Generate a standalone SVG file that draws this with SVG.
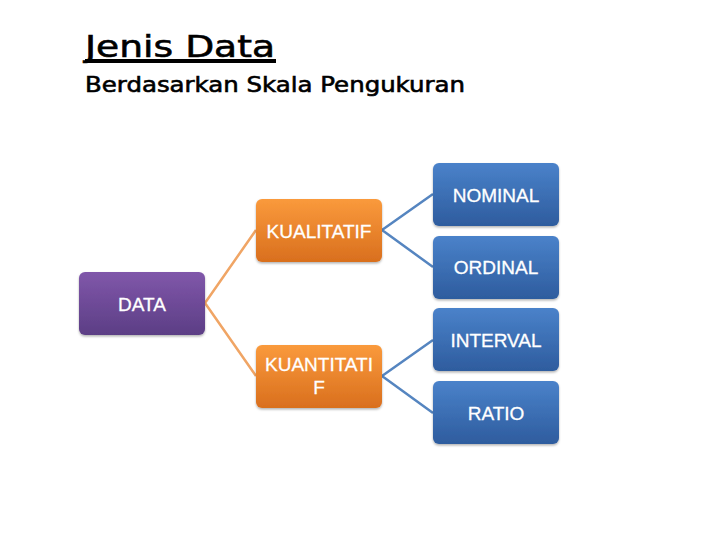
<svg xmlns="http://www.w3.org/2000/svg" width="720" height="540" viewBox="0 0 720 540">
<defs>
<linearGradient id="gP" x1="0" y1="0" x2="0" y2="1"><stop offset="0" stop-color="#8057AA"/><stop offset="1" stop-color="#5C3E85"/></linearGradient>
<linearGradient id="gO" x1="0" y1="0" x2="0" y2="1"><stop offset="0" stop-color="#FA9A3C"/><stop offset="1" stop-color="#D96F1E"/></linearGradient>
<linearGradient id="gB" x1="0" y1="0" x2="0" y2="1"><stop offset="0" stop-color="#4A82CA"/><stop offset="1" stop-color="#2E5C9E"/></linearGradient>
<filter id="sh" x="-10%" y="-10%" width="130%" height="130%"><feDropShadow dx="0" dy="1.5" stdDeviation="1.2" flood-color="#000" flood-opacity="0.3"/></filter>
</defs>
<style>
.t{font-family:"Liberation Sans",Arial,sans-serif;font-size:19px;fill:#fff;text-anchor:middle;dominant-baseline:central;stroke:#fff;stroke-width:0.3}
.c{fill:none;stroke-width:2.5}
.o{stroke:#F0A565}
.b{stroke:#5585C0}
.h{font-family:"DejaVu Sans",sans-serif;fill:#000;stroke:#000;stroke-width:0.6}
</style>
<rect width="720" height="540" fill="#fff"/>
<g id="title">
<text class="h" x="85" y="57" font-size="31" textLength="190" lengthAdjust="spacingAndGlyphs">Jenis Data</text>
<rect x="85" y="59" width="191" height="4" fill="#000"/>
<text class="h" x="85" y="92" font-size="21" textLength="380" lengthAdjust="spacingAndGlyphs">Berdasarkan Skala Pengukuran</text>
</g>
<g id="connectors">
<path class="c o" d="M205 303 L256 230 M205 303 L256 376"/>
<path class="c b" d="M382 230 L433 194 M382 230 L433 267 M382 376 L433 340 M382 376 L433 413"/>
</g>
<g id="data"><rect x="79" y="272" width="126" height="63" rx="6" fill="url(#gP)" filter="url(#sh)"/><text class="t" x="142" y="304">DATA</text></g>
<g id="kualitatif"><rect x="256" y="199" width="126" height="63" rx="6" fill="url(#gO)" filter="url(#sh)"/><text class="t" x="319" y="231">KUALITATIF</text></g>
<g id="kuantitatif"><rect x="256" y="345" width="126" height="63" rx="6" fill="url(#gO)" filter="url(#sh)"/><text class="t" x="319" y="364">KUANTITATI</text><text class="t" x="319" y="387">F</text></g>
<g id="nominal"><rect x="433" y="163" width="126" height="63" rx="6" fill="url(#gB)" filter="url(#sh)"/><text class="t" x="496" y="195">NOMINAL</text></g>
<g id="ordinal"><rect x="433" y="236" width="126" height="63" rx="6" fill="url(#gB)" filter="url(#sh)"/><text class="t" x="496" y="267">ORDINAL</text></g>
<g id="interval"><rect x="433" y="308" width="126" height="63" rx="6" fill="url(#gB)" filter="url(#sh)"/><text class="t" x="496" y="340">INTERVAL</text></g>
<g id="ratio"><rect x="433" y="381" width="126" height="63" rx="6" fill="url(#gB)" filter="url(#sh)"/><text class="t" x="496" y="413">RATIO</text></g>
</svg>
